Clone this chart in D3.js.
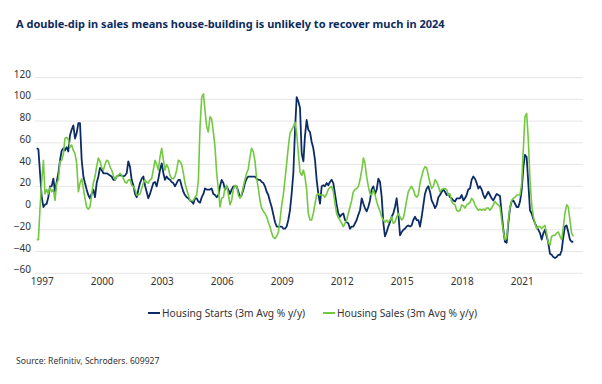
<!DOCTYPE html>
<html>
<head>
<meta charset="utf-8">
<script src="https://cdn.jsdelivr.net/npm/d3@7"></script>
<style>
  body { margin: 0; background: #fff; }
  text { font-family: "Noto Sans", "Open Sans", sans-serif; }
</style>
</head>
<body>
<div id="chart"></div>
<script>

// monthly series, first value is Oct 1996
var startMonth = new Date(1996, 9, 1);

var housingStarts = [
  55, 54, 32, 10, 1, 3, 4, 10, 20, 20, 27, 15,
  24, 32, 44, 53, 55, 53, 56, 52, 67, 72, 76, 64,
  69, 78, 78, 44, 29, 23, 17, 12, 9, 13, 17, 10,
  23, 29, 37, 35, 32, 32, 32, 31, 30, 29, 26, 26,
  29, 30, 30, 30, 29, 30, 32, 43, 38, 26, 21, 13,
  10, 17, 23, 27, 29, 21, 15, 9, 13, 18, 23, 24,
  20, 27, 35, 41, 32, 26, 29, 27, 26, 24, 23, 20,
  23, 26, 26,
  20, 15, 12, 10, 9, 7, 6, 4, 9, 9, 6, 5,
  10, 13, 18, 17, 17, 17, 18, 13, 12, 10, 12, 20,
  26, 23, 17, 20, 17, 13, 17, 20, 20, 20, 15, 10,
  12, 17, 23, 27, 29, 29, 29, 29, 29, 27, 26, 26,
  24, 23, 20, 15, 12, 6, 1, -6, -13, -17, -17, -17,
  -17, -19, -19, -17, -11, -2, 13, 32, 72, 102, 98, 92,
  50, 43, 66, 81, 72, 70, 61, 55, 44, 26, 13, 4,
  20, 21, 20, 23, 21, 24, 26, 23, 13, 3, -5, -8,
  -6, -5, -11, -13, -14, -19, -17, -17, -14, -11, -6, -2,
  9, 4, 0, -3, 1, 7, 17, 20, 13, 17, 27, 24,
  10, -14, -26, -22, -17, -13, -8, -5, 1, 9, -5, -25,
  -22, -20, -19, -17, -16, -17, -16, -11, -8, -11, -11, -17,
  -8, 3, 13, 18, 20, 15, 7, 4, 0, 3, 10, 12,
  15, 17, 15, 12, 13, 10, 9, 7, 6, 9, 9, 9,
  12, 7, 9, 12, 17, 18, 26, 29, 27, 23, 18, 20,
  17, 12, 9, 12, 15, 12, 9, 7, 10, 13, 12, 11,
  -5, -20, -31, -32, -14, 0, 6, 7, 4, 1, 1, 6,
  17, 38, 49, 47, 23, -2, -5, -10, -14, -17, -20, -23,
  -29, -23, -20, -26, -32, -42, -43, -45, -46, -45, -43, -43,
  -39, -26, -17, -16, -22, -29, -31, -31
];

var housingSales = [
  -29, -29, 0, 25, 44, 13, 17, 13, 19, 15, 17, 7,
  23, 26, 43, 44, 50, 64, 65, 63, 56, 58, 53, 50,
  41, 15, 23, 27, 18, 9, 1, -1, 1, 12, 23, 29,
  38, 46, 43, 37, 35, 40, 44, 43, 38, 35, 30, 26,
  29, 30, 32, 30, 27, 24, 23, 26, 26, 21, 20, 17,
  12, 12, 13, 18, 23, 26, 24, 23, 26, 27, 35, 44,
  40, 35, 47, 55, 44, 35, 40, 37, 30, 27, 27, 29,
  35, 44, 43,
  40, 32, 23, 17, 12, 7, 7, 7, 10, 12, 26, 75,
  102, 105, 90, 75, 70, 84, 82, 70, 56, 32, 17, 1,
  9, 10, 18, 21, 13, 3, 7, 17, 21, 20, 12, 9,
  13, 20, 26, 32, 36, 47, 55, 52, 43, 27, 18, 7,
  0, -3, -5, -8, -13, -17, -23, -27, -28, -26, -22, -11,
  3, 13, 26, 41, 56, 69, 72, 75, 79, 69, 50, 33,
  30, 35, 29, 17, -5, -11, -11, -5, 4, 12, 13, 12,
  12, 12, 10, 13, 17, 19, 20, 15, 4, -5, -9, -11,
  -14, -17, -14, -11, -5, 1, 7, 15, 17, 18, 20, 26,
  35, 46, 41, 29, 20, 13, 12, 17, 12, 6, 1, -3,
  -8, -11, -13, -11, -13, -11, -8, -14, -13, -8, -5, -8,
  -11, -9, -2, 7, 15, 18, 20, 17, 12, 10, 12, 23,
  29, 35, 38, 37, 30, 23, 18, 20, 26, 24, 20, 15,
  17, 18, 18, 17, 12, 13, 6, 4, 3, -2, -3, -2,
  3, 2, 0, 3, 4, 5, 9, 7, 3, 0, -2, -1,
  -2, -1, -2, 0, 0, -2, 0, 3, 6, 4, 3, 1,
  -11, -22, -29, -28, -11, 1, 7, 9, 10, 12, 12, 12,
  23, 56, 84, 87, 63, 26, 4, -8, -14, -19, -17, -17,
  -19, -17, -16, -23, -32, -34, -26, -25, -25, -23, -22, -26,
  -29, -17, -5, 3, 1, -11, -23, -26
];

var yTicks = [-60, -40, -20, 0, 20, 40, 60, 80, 100, 120];
var xTickYears = [1997, 2000, 2003, 2006, 2009, 2012, 2015, 2018, 2021];

var seriesNames = ["Housing Starts (3m Avg % y/y)", "Housing Sales (3m Avg % y/y)"];
var seriesColors = ["#0c2c66", "#72c93f"];

var width = 602, height = 384;

var svg = d3.select("#chart").append("svg")
    .attr("width", width)
    .attr("height", height);

// title
svg.append("text")
    .attr("x", 16)
    .attr("y", 28)
    .attr("fill", "#0c2c5e")
    .style("font-weight", "bold")
    .style("font-size", "11px")
    .text("A double-dip in sales means house-building is unlikely to recover much in 2024");

// build dated rows
function toRows(values) {
  return values.map(function(v, i) {
    return { date: d3.timeMonth.offset(startMonth, i), value: v };
  });
}
var starts = toRows(housingStarts);
var sales = toRows(housingSales);

var x = d3.scaleTime()
    .domain([starts[0].date, starts[starts.length - 1].date])
    .range([36.7, 573.3]);

var y = d3.scaleLinear()
    .domain([-60, 120])
    .range([273.3, 77.6]);

// grid lines
svg.append("g")
    .selectAll("line")
    .data(yTicks)
  .enter().append("line")
    .attr("x1", 35)
    .attr("x2", 583)
    .attr("y1", function(d) { return y(d); })
    .attr("y2", function(d) { return y(d); })
    .attr("stroke", "#e6e6e6")
    .attr("stroke-width", 1);

// y axis labels
var yAxis = svg.append("g")
    .attr("transform", "translate(31,0)")
    .call(d3.axisLeft(y).tickValues(yTicks).tickSize(0).tickPadding(0));
yAxis.select(".domain").remove();
yAxis.selectAll("text")
    .attr("fill", "#333")
    .style("font-size", "10px")
    .style("font-family", "'Noto Sans', sans-serif")
    .attr("dy", "-0.05em");

// x axis labels
var xAxis = svg.append("g")
    .attr("transform", "translate(0,278)")
    .call(d3.axisBottom(x)
      .tickValues(xTickYears.map(function(yr) { return new Date(yr, 0, 1); }))
      .tickFormat(d3.timeFormat("%Y"))
      .tickSize(0)
      .tickPadding(0));
xAxis.select(".domain").remove();
xAxis.selectAll("text")
    .attr("fill", "#333")
    .style("font-size", "10px")
    .style("font-family", "'Noto Sans', sans-serif");

var line = d3.line()
    .x(function(d) { return x(d.date); })
    .y(function(d) { return y(d.value); });

// starts first, sales on top
svg.append("path")
    .datum(starts)
    .attr("fill", "none")
    .attr("stroke", seriesColors[0])
    .attr("stroke-width", 1.8)
    .attr("stroke-linejoin", "round")
    .attr("d", line);

svg.append("path")
    .datum(sales)
    .attr("fill", "none")
    .attr("stroke", seriesColors[1])
    .attr("stroke-width", 1.6)
    .attr("stroke-linejoin", "round")
    .attr("d", line);

// legend
var legendX = [148, 323];
var legend = svg.selectAll(".legend")
    .data(seriesNames)
  .enter().append("g")
    .attr("class", "legend")
    .attr("transform", function(d, i) { return "translate(" + legendX[i] + ",313)"; });

legend.append("line")
    .attr("x1", 0)
    .attr("x2", 12)
    .attr("stroke", function(d, i) { return seriesColors[i]; })
    .attr("stroke-width", 2);

legend.append("text")
    .attr("x", 14)
    .attr("dy", "0.35em")
    .attr("fill", "#333")
    .style("font-size", "10.2px")
    .text(function(d) { return d; });

// source
svg.append("text")
    .attr("x", 16)
    .attr("y", 364)
    .attr("fill", "#333")
    .style("font-size", "8.6px")
    .text("Source: Refinitiv, Schroders. 609927");

</script>
</body>
</html>
